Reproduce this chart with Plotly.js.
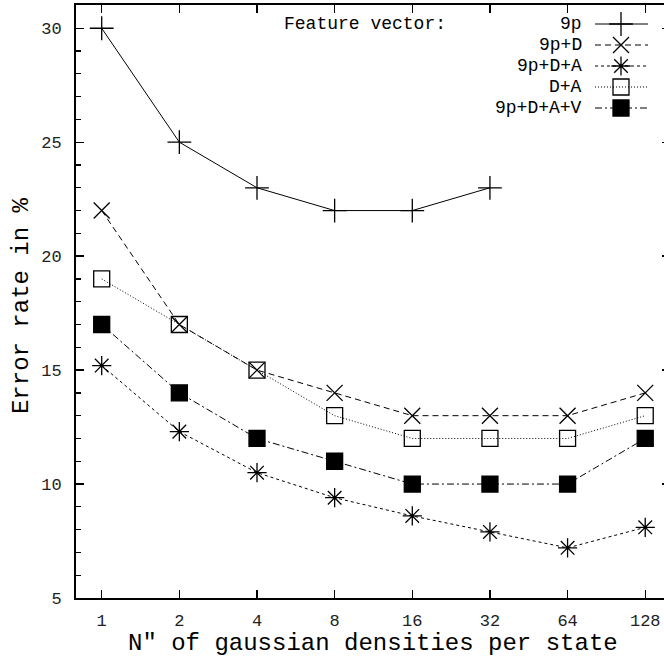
<!DOCTYPE html>
<html>
<head>
<meta charset="utf-8">
<script src="https://cdn.plot.ly/plotly-3.0.1.min.js"></script>
<style>
html,body{margin:0;padding:0;overflow:hidden;background:#fff;}
#chart{width:672px;height:659px;}
</style>
</head>
<body>
<div id="chart"></div>
<script>
// Data
const densities = ["1", "2", "4", "8", "16", "32", "64", "128"];
const s9p      = [30, 25, 23, 22, 22, 23];
const s9pD     = [22, 17, 15, 14, 13, 13, 13, 14];
const s9pDA    = [15.2, 12.3, 10.5, 9.4, 8.6, 7.9, 7.2, 8.1];
const sDA      = [19, 17, 15, 13, 12, 12, 12, 13];
const s9pDAV   = [17, 14, 12, 11, 10, 10, 10, 12];
const seriesNames = ["9p", "9p+D", "9p+D+A", "D+A", "9p+D+A+V"];
const yTicks = [5, 10, 15, 20, 25, 30];
const xTitle = "N″ of gaussian densities per state";
const yTitle = "Error rate in %";
const legendTitle = "Feature vector:";

const FONT = "Liberation Mono, Courier New, monospace";
const idx = densities.map((d, i) => i);

const styles = [
  {dash: "solid", symbol: "cross-thin-open", size: 17},
  {dash: "6px,4px", symbol: "x-thin-open", size: 16},
  {dash: "3px,3px", symbol: "asterisk-open", size: 16},
  {dash: "1px,2px", symbol: "square-open", size: 16},
  {dash: "7px,3px,2px,3px", symbol: "square", size: 16}
];
const allSeries = [s9p, s9pD, s9pDA, sDA, s9pDAV];

const traces = allSeries.map((vals, k) => ({
  x: idx.slice(0, vals.length),
  y: vals,
  type: "scatter",
  mode: "lines+markers",
  name: seriesNames[k],
  showlegend: false,
  line: {color: "#000", width: 1, dash: styles[k].dash},
  marker: {symbol: styles[k].symbol, size: styles[k].size, color: "#000",
           line: {color: "#000", width: 1.3}},
  cliponaxis: false
}));

// custom gnuplot-style legend (pixel-coordinate overlay axis)
const legRowY = [24, 45, 66, 87, 108];
const annotations = [{
  xref: "x2", yref: "y2", x: 282, y: 24, xanchor: "left", yanchor: "middle",
  text: legendTitle, showarrow: false, font: {family: FONT, size: 18, color: "#000"}
}];
seriesNames.forEach((nm, k) => {
  traces.push({
    x: [595, 648], y: [legRowY[k], legRowY[k]], xaxis: "x2", yaxis: "y2",
    type: "scatter", mode: "lines", showlegend: false, hoverinfo: "skip",
    line: {color: "#000", width: 1, dash: styles[k].dash}
  });
  traces.push({
    x: [621], y: [legRowY[k]], xaxis: "x2", yaxis: "y2",
    type: "scatter", mode: "markers", showlegend: false, hoverinfo: "skip",
    marker: {symbol: styles[k].symbol, size: styles[k].size, color: "#000",
             line: {color: "#000", width: 1.3}}
  });
  annotations.push({
    xref: "x2", yref: "y2", x: 584, y: legRowY[k], xanchor: "right", yanchor: "middle",
    text: nm, showarrow: false, font: {family: FONT, size: 18, color: "#000"}
  });
});
// axis titles (paper coordinates: plot area spans x 76..670 px, y 598..5 px)
annotations.push({
  xref: "paper", yref: "paper", x: 0.5, y: -0.076, xanchor: "center", yanchor: "middle",
  text: xTitle, showarrow: false, font: {family: FONT, size: 24, color: "#000"}
});
annotations.push({
  xref: "paper", yref: "paper", x: -0.0926, y: 0.494, xanchor: "center", yanchor: "middle",
  textangle: -90, text: yTitle, showarrow: false, font: {family: FONT, size: 24, color: "#000"}
});

const layout = {
  width: 672, height: 659,
  margin: {l: 76, r: 2, t: 5, b: 61},
  paper_bgcolor: "#fff", plot_bgcolor: "#fff",
  showlegend: false,
  font: {family: FONT, color: "#000"},
  xaxis: {
    range: [-0.331, 7.319], tickvals: idx, ticktext: densities,
    ticks: "inside", ticklen: 8, tickwidth: 1.3, tickcolor: "#000",
    showline: true, linewidth: 2, linecolor: "#000", mirror: "ticks",
    showgrid: false, zeroline: false, ticklabelstandoff: 6,
    tickfont: {family: FONT, size: 17, color: "#222"}
  },
  yaxis: {
    range: [5, 31.02], tickvals: yTicks,
    ticks: "inside", ticklen: 8, tickwidth: 1.3, tickcolor: "#000",
    minor: {dtick: 1, ticks: "inside", ticklen: 5, tickwidth: 1.3, tickcolor: "#000"},
    showline: true, linewidth: 2, linecolor: "#000", mirror: "ticks",
    showgrid: false, zeroline: false, ticklabelstandoff: 9,
    tickfont: {family: FONT, size: 17, color: "#222"}
  },
  xaxis2: {range: [76, 670], overlaying: "x", anchor: "y2", visible: false, fixedrange: true},
  yaxis2: {range: [598, 5], overlaying: "y", anchor: "x2", visible: false, fixedrange: true},
  annotations: annotations
};

Plotly.newPlot("chart", traces, layout, {displayModeBar: false, staticPlot: true});
</script>
</body>
</html>
